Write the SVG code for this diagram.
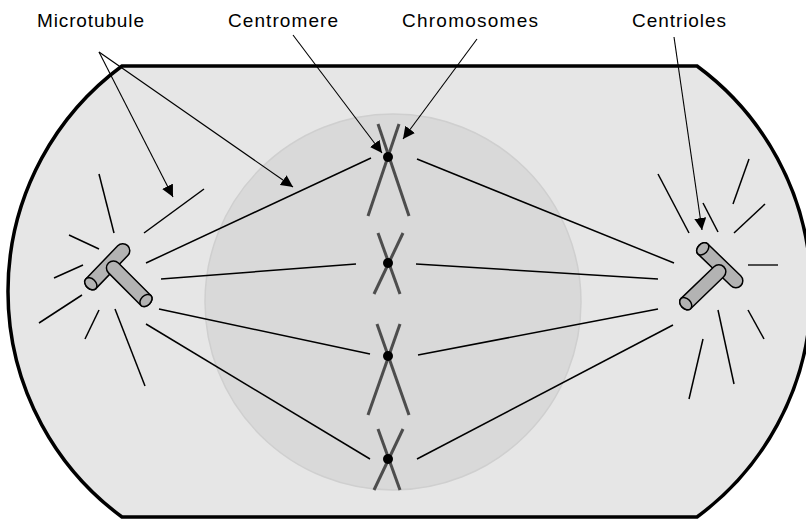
<svg xmlns="http://www.w3.org/2000/svg" width="806" height="520" viewBox="0 0 806 520">
  <style>
    .label { font-family: "Liberation Sans", Arial, sans-serif; font-size: 19px; fill: #000; }
    .leader { stroke: #000; stroke-width: 1.1; fill: none; }
    .fiber { stroke: #000; stroke-width: 1.5; fill: none; }
    .ray { stroke: #000; stroke-width: 1.5; fill: none; }
    .chromatid { stroke: #4d4d4d; stroke-width: 3; fill: none; }
    .centromere { fill: #000; }
    .cyl { fill: #b3b3b3; stroke: #000; stroke-width: 1.5; }
  </style>
  <defs>
    <marker id="arrow" viewBox="0 0 12 12" refX="12" refY="6" markerWidth="12" markerHeight="12" markerUnits="userSpaceOnUse" orient="auto">
      <path d="M0,0 L12,6 L0,12 Z" fill="#000"/>
    </marker>
    <!-- one centriole cylinder, axis along x, open end face at -x -->
    <g id="centriole">
      <path class="cyl" d="M-24,-7 L22,-7 A7,7 0 0 1 22,7 L-24,7 A5,7 0 0 1 -24,-7 Z"/>
      <ellipse class="cyl" cx="-24" cy="0" rx="5" ry="7"/>
    </g>
  </defs>

  <rect width="806" height="520" fill="#fff"/>

  <!-- cell body -->
  <g id="cell">
    <path d="M122,66 L697,66 A280,280 0 0 1 697,517 L122,517 A280,280 0 0 1 122,66 Z" fill="#e6e6e6" stroke="#000" stroke-width="3.5"/>
  </g>

  <!-- nuclear region -->
  <g id="nucleus">
    <circle cx="393" cy="302" r="188" fill="#d9d9d9" stroke="#cfcfcf" stroke-width="1.5"/>
  </g>

  <!-- spindle fibres and astral rays -->
  <g id="connectors">
    <line class="fiber" x1="146" y1="263" x2="371" y2="158"/>
    <line class="fiber" x1="161" y1="279" x2="356" y2="264"/>
    <line class="fiber" x1="159" y1="309" x2="370" y2="354"/>
    <line class="fiber" x1="146" y1="324" x2="370" y2="459"/>

    <line class="fiber" x1="417" y1="159" x2="674" y2="263"/>
    <line class="fiber" x1="416" y1="264" x2="658" y2="279"/>
    <line class="fiber" x1="418" y1="355" x2="658" y2="309"/>
    <line class="fiber" x1="417" y1="459" x2="673" y2="325"/>

    <line class="ray" x1="99" y1="174" x2="114" y2="233"/>
    <line class="ray" x1="69" y1="235" x2="99" y2="249"/>
    <line class="ray" x1="54" y1="278" x2="83" y2="265"/>
    <line class="ray" x1="39" y1="323" x2="82" y2="295"/>
    <line class="ray" x1="85" y1="339" x2="99" y2="310"/>
    <line class="ray" x1="115" y1="309" x2="145" y2="386"/>
    <line class="ray" x1="144" y1="233" x2="204" y2="189"/>

    <line class="ray" x1="658" y1="174" x2="689" y2="233"/>
    <line class="ray" x1="703" y1="203" x2="718" y2="232"/>
    <line class="ray" x1="749" y1="159" x2="733" y2="204"/>
    <line class="ray" x1="765" y1="204" x2="734" y2="233"/>
    <line x1="748" y1="265" x2="778" y2="265" stroke="#4d4d4d" stroke-width="2"/>
    <line class="ray" x1="748" y1="310" x2="764" y2="339"/>
    <line class="ray" x1="718" y1="310" x2="734" y2="384"/>
    <line class="ray" x1="703" y1="339" x2="689" y2="399"/>

    <!-- label leaders -->
    <line class="leader" x1="99" y1="52" x2="173" y2="197" marker-end="url(#arrow)"/>
    <line class="leader" x1="99" y1="52" x2="293" y2="187" marker-end="url(#arrow)"/>
    <line class="leader" x1="293" y1="35" x2="382" y2="153" marker-end="url(#arrow)"/>
    <line class="leader" x1="477" y1="39" x2="403" y2="139" marker-end="url(#arrow)"/>
    <line class="leader" x1="674" y1="37" x2="702" y2="230" marker-end="url(#arrow)"/>
  </g>

  <!-- chromosomes on the metaphase plate -->
  <g id="chromosome-1">
    <line class="chromatid" x1="378" y1="124" x2="409" y2="216"/>
    <line class="chromatid" x1="399" y1="124" x2="368" y2="216"/>
    <circle class="centromere" cx="388" cy="157" r="5"/>
  </g>
  <g id="chromosome-2">
    <line class="chromatid" x1="378" y1="233" x2="400" y2="294"/>
    <line class="chromatid" x1="403" y1="233" x2="374" y2="294"/>
    <circle class="centromere" cx="388" cy="263" r="5"/>
  </g>
  <g id="chromosome-3">
    <line class="chromatid" x1="377" y1="324" x2="409" y2="415"/>
    <line class="chromatid" x1="400" y1="324" x2="368" y2="415"/>
    <circle class="centromere" cx="388" cy="356" r="5"/>
  </g>
  <g id="chromosome-4">
    <line class="chromatid" x1="378" y1="429" x2="400" y2="490"/>
    <line class="chromatid" x1="403" y1="429" x2="374" y2="490"/>
    <circle class="centromere" cx="388" cy="459" r="5"/>
  </g>

  <!-- centriole pairs -->
  <g id="centrioles-left">
    <use href="#centriole" transform="translate(107.5,266.5) rotate(-46)"/>
    <use href="#centriole" transform="translate(129,283.5) rotate(-135)"/>
  </g>
  <g id="centrioles-right">
    <use href="#centriole" transform="translate(720,265.5) rotate(44)"/>
    <use href="#centriole" transform="translate(703,287) rotate(-44)"/>
  </g>

  <!-- labels -->
  <g id="labels">
    <text class="label" x="37" y="27" textLength="107" lengthAdjust="spacing">Microtubule</text>
    <text class="label" x="228" y="27" textLength="110" lengthAdjust="spacing">Centromere</text>
    <text class="label" x="402" y="27" textLength="136" lengthAdjust="spacing">Chromosomes</text>
    <text class="label" x="632" y="27" textLength="94" lengthAdjust="spacing">Centrioles</text>
  </g>
</svg>
